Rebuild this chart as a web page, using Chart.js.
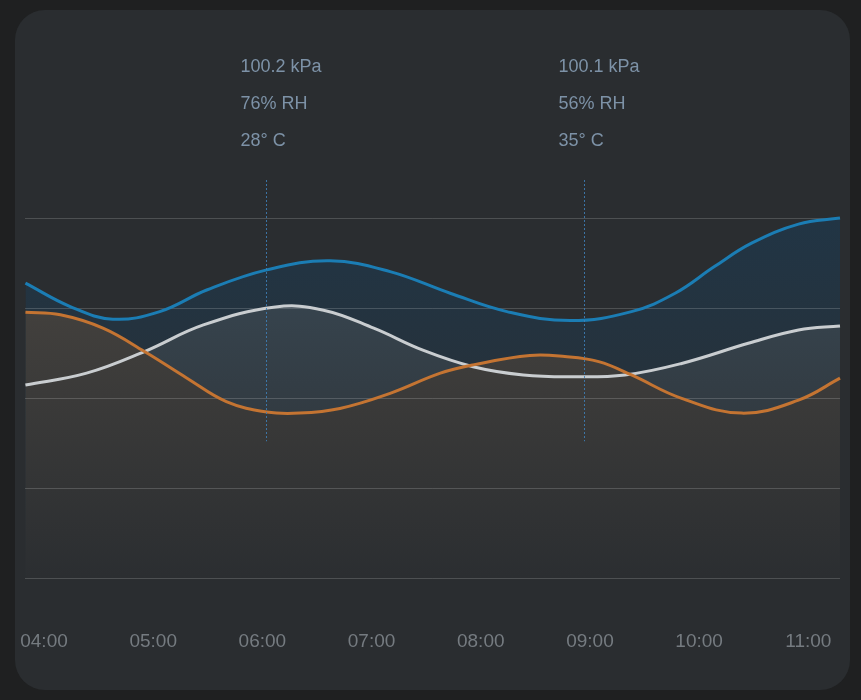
<!DOCTYPE html>
<html lang="en">
<head>
    <meta charset="UTF-8">
    <title>Weather readings</title>
    <script src="https://cdn.jsdelivr.net/npm/chart.js"></script>
    <style>
        html, body { margin: 0; padding: 0; background: #1f2021; }
        .card {
            position: absolute; left: 15px; top: 10px;
            width: 835px; height: 680px;
            background: #2a2d30; border-radius: 30px; overflow: hidden;
        }
        .card canvas { display: block; }
    </style>
</head>
<body>
<div class="card">
    <canvas id="weatherChart" width="835" height="680"></canvas>
</div>

<script>
    // hours of the day shown on the x axis
    const tickHours = [4, 5, 6, 7, 8, 9, 10, 11];
    // horizontal guide lines
    const gridValues = [0, 25, 50, 75, 100];

    // pressure trace (blue)
    const pressureTimes  = [3.83, 4.24, 4.63, 5.06, 5.49, 6.04, 6.62, 7.17, 7.72, 8.24, 8.82, 9.38, 9.78, 10.14, 10.48, 10.91, 11.29];
    const pressureValues = [81.9, 75.4, 71.9, 74.0, 80.0, 85.6, 88.1, 85.1, 79.1, 74.0, 71.5, 74.0, 79.1, 86.5, 93.0, 98.3, 100];

    // humidity trace (white)
    const humidityTimes  = [3.83, 4.39, 4.92, 5.46, 6.12, 6.56, 7.02, 7.47, 7.93, 8.39, 8.82, 9.32, 9.84, 10.45, 10.91, 11.29];
    const humidityValues = [53.6, 56.9, 62.9, 70.3, 75.3, 74.4, 69.4, 63.3, 58.7, 56.4, 55.9, 56.4, 59.6, 65.2, 68.9, 70.0];

    // temperature trace (orange)
    const tempTimes  = [3.83, 4.15, 4.54, 4.92, 5.31, 5.67, 6.04, 6.34, 6.71, 7.17, 7.63, 7.93, 8.45, 8.77, 9.08, 9.38, 9.84, 10.39, 10.91, 11.29];
    const tempValues = [73.8, 73.1, 69.4, 62.9, 55.5, 49.0, 46.1, 45.8, 47.1, 51.3, 56.9, 59.2, 61.8, 61.5, 60.1, 56.4, 49.9, 45.8, 49.4, 55.5];

    // readings called out above the chart
    const markerTimes = [6.03, 8.95];
    const markerLabels = [
        ["100.2 kPa", "76% RH", "28° C"],
        ["100.1 kPa", "56% RH", "35° C"]
    ];

    const toPoints = (xs, ys) => xs.map((x, i) => ({ x: x, y: ys[i] }));

    function fillGradient(top, bottom) {
        return function(context) {
            const area = context.chart.chartArea;
            if (!area) return top;
            const g = context.chart.ctx.createLinearGradient(0, area.top, 0, area.bottom);
            g.addColorStop(0, top);
            g.addColorStop(1, bottom);
            return g;
        };
    }

    function noPadding(axis) {
        axis.paddingLeft = 0;
        axis.paddingRight = 0;
        axis.paddingTop = 0;
        axis.paddingBottom = 0;
    }

    const guidesPlugin = {
        id: "guides",
        // runs after the filler, so the grid sits over the fills but under the lines
        beforeDatasetsDraw(chart) {
            const ctx = chart.ctx, area = chart.chartArea, ys = chart.scales.y;
            ctx.save();
            ctx.strokeStyle = "rgba(255,255,255,0.17)";
            ctx.lineWidth = 1;
            gridValues.forEach(v => {
                const py = Math.round(ys.getPixelForValue(v)) + 0.5;
                ctx.beginPath();
                ctx.moveTo(area.left, py);
                ctx.lineTo(area.right, py);
                ctx.stroke();
            });
            ctx.restore();
        },
        afterDatasetsDraw(chart) {
            const ctx = chart.ctx;
            const xs = chart.scales.x, ys = chart.scales.y;
            ctx.save();
            markerTimes.forEach((t, i) => {
                const px = Math.round(xs.getPixelForValue(t)) + 0.5;
                ctx.strokeStyle = "rgba(62,128,185,0.85)";
                ctx.lineWidth = 1;
                ctx.setLineDash([2, 2]);
                ctx.beginPath();
                ctx.moveTo(px, chart.chartArea.top - 38);
                ctx.lineTo(px, ys.getPixelForValue(38));
                ctx.stroke();

                ctx.setLineDash([]);
                ctx.fillStyle = "#7d92a7";
                ctx.font = "18px 'Liberation Sans', Arial, sans-serif";
                ctx.textAlign = "left";
                ctx.textBaseline = "middle";
                markerLabels[i].forEach((line, j) => {
                    ctx.fillText(line, px - 26, 57 + j * 37);
                });
            });
            ctx.restore();
        }
    };

    const lineStyle = {
        borderWidth: 3,
        pointRadius: 0,
        tension: 0.4,
        fill: "origin",
        clip: 4
    };

    new Chart(document.getElementById("weatherChart"), {
        type: "line",
        data: {
            datasets: [
                Object.assign({
                    label: "Temperature",
                    data: toPoints(tempTimes, tempValues),
                    borderColor: "#c47432",
                    backgroundColor: fillGradient("rgba(74,70,65,1)", "rgba(43,46,49,1)")
                }, lineStyle),
                Object.assign({
                    label: "Humidity",
                    data: toPoints(humidityTimes, humidityValues),
                    borderColor: "#c9cdd0",
                    backgroundColor: fillGradient("rgba(58,74,86,1)", "rgba(43,46,49,1)")
                }, lineStyle),
                Object.assign({
                    label: "Pressure",
                    data: toPoints(pressureTimes, pressureValues),
                    borderColor: "#1b7db4",
                    backgroundColor: fillGradient("rgba(33,53,69,1)", "rgba(43,46,49,1)")
                }, lineStyle)
            ]
        },
        options: {
            responsive: false,
            animation: false,
            layout: { padding: { left: 10, right: 10, top: 208, bottom: 37 } },
            plugins: {
                legend: { display: false },
                tooltip: { enabled: false },
                filler: { drawTime: "beforeDatasetsDraw" }
            },
            scales: {
                x: {
                    type: "linear",
                    min: 3.826,
                    max: 11.29,
                    afterBuildTicks: function(axis) {
                        axis.ticks = tickHours.map(h => ({ value: h }));
                    },
                    afterFit: function(axis) {
                        noPadding(axis);
                        axis.height = axis.options.ticks.padding + 23;
                    },
                    grid: { display: false, drawTicks: false },
                    border: { display: false },
                    ticks: {
                        padding: 52,
                        color: "#757b80",
                        font: { family: "'Liberation Sans', Arial, sans-serif", size: 19 },
                        maxRotation: 0,
                        autoSkip: false,
                        callback: v => String(v).padStart(2, "0") + ":00"
                    }
                },
                y: {
                    min: 0,
                    max: 100,
                    afterFit: function(axis) { axis.width = 0; noPadding(axis); },
                    ticks: { display: false },
                    border: { display: false },
                    grid: { display: false }
                }
            }
        },
        plugins: [guidesPlugin]
    });
</script>
</body>
</html>
